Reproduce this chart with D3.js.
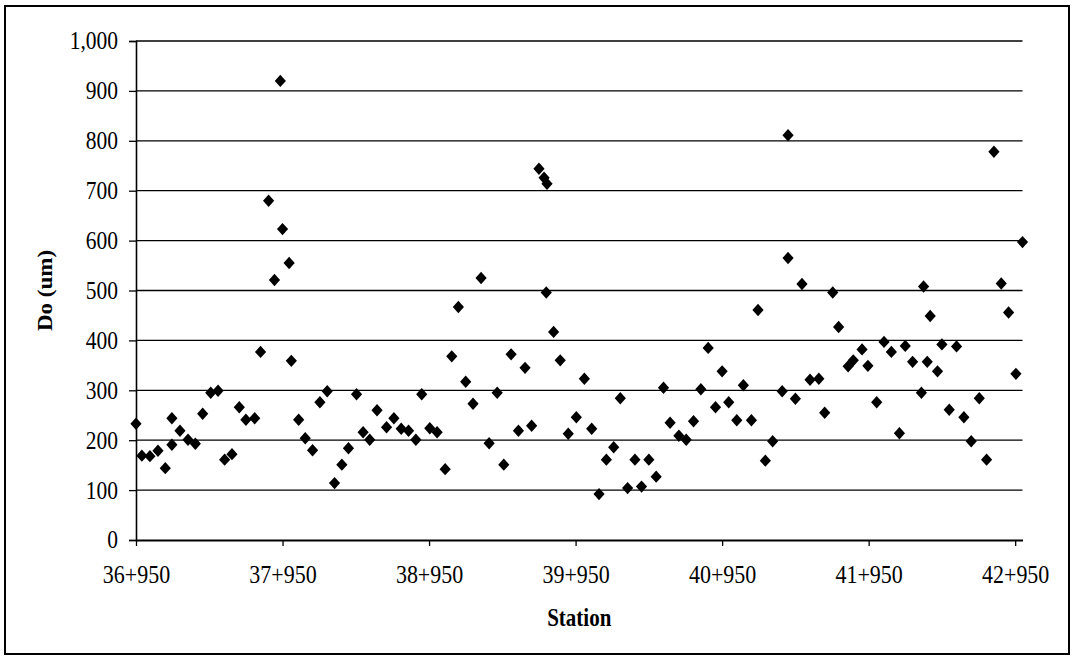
<!DOCTYPE html>
<html>
<head>
<meta charset="utf-8">
<script src="https://cdn.jsdelivr.net/npm/d3@7"></script>
<style>
  html, body { margin: 0; padding: 0; background: #fff; }
  svg { display: block; }
  text { font-family: "Liberation Serif", "Times New Roman", serif; fill: #000; }
</style>
</head>
<body>
<svg id="chart" width="1072" height="659"></svg>
<script>
// Station chainage (m)
const stations = [
  36950,36990,37045,37100,37150,37195,37195,37250,37305,37355,
  37405,37460,37510,37555,37605,37655,37700,37760,37800,37855,
  37895,37935,37950,37995,38010,38060,38105,38155,38205,38255,
  38305,38355,38400,38455,38500,38545,38595,38660,38710,38760,
  38810,38860,38900,38955,39005,39060,39105,39150,39200,39250,
  39305,39360,39415,39460,39510,39560,39605,39650,39700,39735,
  39755,39750,39800,39845,39900,39955,40010,40060,40110,40160,
  40210,40255,40305,40355,40400,40450,40500,40550,40595,40655,
  40705,40755,40805,40855,40905,40950,40995,41050,41095,41150,
  41195,41245,41295,41360,41400,41400,41450,41495,41550,41610,
  41650,41705,41745,41810,41845,41905,41945,42005,42055,42105,
  42160,42200,42250,42310,42325,42350,42370,42420,42450,42500,
  42550,42600,42650,42705,42755,42805,42855,42905,42955,43000
];
// Do (um) values
const doValues = [
  233,169,168,179,144,244,191,219,201,193,
  253,295,299,161,172,266,241,244,377,680,
  521,920,623,555,359,241,204,180,276,298,
  114,151,184,292,216,201,260,226,244,223,
  219,201,292,224,216,142,368,467,317,273,
  525,194,295,151,372,219,345,229,744,726,
  714,496,417,360,213,246,323,223,92,161,
  186,284,104,161,107,161,127,305,235,209,
  201,238,302,385,266,338,276,240,310,240,
  461,159,198,298,811,565,283,513,321,323,
  255,496,427,348,360,382,349,276,397,377,
  214,389,357,295,508,357,449,338,392,261,
  388,246,198,284,161,778,514,456,333,597
];
const xTickValues = [36950,37950,38950,39950,40950,41950,42950];
const xTickLabels = ["36+950","37+950","38+950","39+950","40+950","41+950","42+950"];
const yTickValues = [0,100,200,300,400,500,600,700,800,900,1000];
const xTitle = "Station";
const yTitle = "Do (um)";

const svg = d3.select("#chart");
const stretch = 1.15;

// outer border
svg.append("rect")
  .attr("x", 5).attr("y", 6).attr("width", 1064).attr("height", 648)
  .attr("fill", "none").attr("stroke", "#000").attr("stroke-width", 2);

const pLeft = 136, pRight = 1022.5, pTop = 41, pBottom = 540;
const x = d3.scaleLinear().domain([36950, 43000]).range([pLeft, pRight]);
const y = d3.scaleLinear().domain([0, 1000]).range([pBottom, pTop]);

// gridlines
svg.append("g")
  .selectAll("line")
  .data(yTickValues.filter(v => v > 0))
  .join("line")
  .attr("x1", pLeft).attr("x2", pRight)
  .attr("y1", d => y(d)).attr("y2", d => y(d))
  .attr("stroke", "#000").attr("stroke-width", 1.3);

// y axis
const yAxis = svg.append("g")
  .attr("transform", `translate(${pLeft},0)`)
  .call(d3.axisLeft(y).tickValues(yTickValues).tickFormat(d3.format(",")).tickSize(7).tickPadding(11));
yAxis.select(".domain").attr("stroke", "#000").attr("stroke-width", 1.6);
yAxis.selectAll(".tick line").attr("stroke", "#000").attr("stroke-width", 1.3);
yAxis.selectAll(".tick text")
  .attr("font-size", "21.5px")
  .attr("font-family", "'Liberation Serif', 'Times New Roman', serif")
  .attr("transform", `scale(1,${stretch})`);

// x axis
const xAxis = svg.append("g")
  .attr("transform", `translate(0,${pBottom})`)
  .call(d3.axisBottom(x).tickValues(xTickValues)
    .tickFormat((d, i) => xTickLabels[i]).tickSize(6).tickSizeOuter(0));
xAxis.select(".domain").attr("stroke", "#000").attr("stroke-width", 2);
xAxis.selectAll(".tick line").attr("stroke", "#000").attr("stroke-width", 1.3);
xAxis.selectAll(".tick text")
  .attr("font-size", "22px")
  .attr("font-family", "'Liberation Serif', 'Times New Roman', serif")
  .attr("y", 37.5).attr("dy", 0)
  .attr("transform", `scale(1,${stretch})`);

// points (diamonds)
const diamond = "M0,-6.2L5.6,0L0,6.2L-5.6,0Z";
svg.append("g")
  .selectAll("path")
  .data(stations.map((s, i) => [s, doValues[i]]))
  .join("path")
  .attr("d", diamond)
  .attr("transform", d => `translate(${x(d[0])},${y(d[1])})`)
  .attr("fill", "#000");

// axis titles
svg.append("text")
  .attr("transform", `translate(${(pLeft + pRight) / 2},626) scale(1,${stretch})`)
  .attr("text-anchor", "middle")
  .attr("font-weight", "bold")
  .attr("font-size", "21px")
  .text(xTitle);

svg.append("text")
  .attr("transform", `translate(52,${(pTop + pBottom) / 2}) scale(1,${stretch}) rotate(-90)`)
  .attr("text-anchor", "middle")
  .attr("font-weight", "bold")
  .attr("font-size", "20px")
  .text(yTitle);
</script>
</body>
</html>
